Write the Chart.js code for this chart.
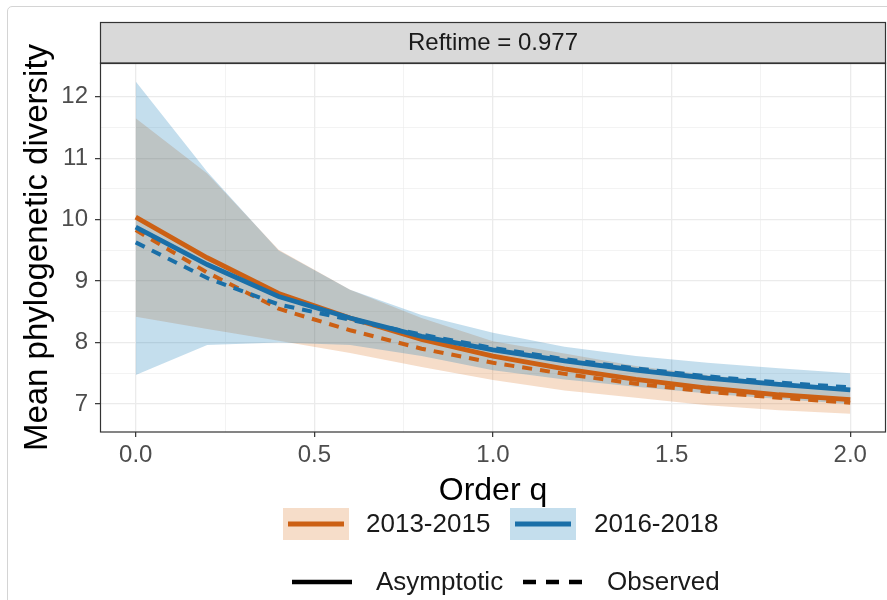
<!DOCTYPE html>
<html>
<head>
<meta charset="utf-8">
<script src="https://cdn.jsdelivr.net/npm/chart.js@4.4.1/dist/chart.umd.min.js"></script>
<style>
  html, body { margin: 0; padding: 0; background: #fff; overflow: hidden; }
  #frame { position: absolute; left: 7px; top: 6px; width: 900px; height: 620px;
           border: 1px solid #d4d4d4; border-radius: 5px; }
  #plot { position: absolute; left: 0; top: 0; }
</style>
</head>
<body>
<div id="frame"></div>
<canvas id="plot" width="887" height="600"></canvas>
<script>
const FONT = '"Liberation Sans", Arial, Helvetica, sans-serif';

// order q where the profiles were evaluated
const orderQ = [0, 0.2, 0.4, 0.6, 0.8, 1.0, 1.2, 1.4, 1.6, 1.8, 2.0];

// 2013-2015
const asy2013 = [10.04, 9.38, 8.80, 8.40, 8.05, 7.78, 7.57, 7.40, 7.26, 7.15, 7.07];
const obs2013 = [9.83, 9.14, 8.55, 8.20, 7.90, 7.67, 7.49, 7.33, 7.20, 7.10, 7.02];
const lo2013  = [8.42, 8.22, 8.03, 7.83, 7.60, 7.39, 7.22, 7.10, 6.98, 6.90, 6.84];
const hi2013  = [11.65, 10.75, 9.51, 8.86, 8.40, 8.02, 7.82, 7.62, 7.47, 7.35, 7.25];

// 2016-2018
const asy2016 = [9.88, 9.27, 8.75, 8.40, 8.10, 7.88, 7.70, 7.55, 7.42, 7.32, 7.23];
const obs2016 = [9.63, 9.05, 8.62, 8.37, 8.13, 7.91, 7.73, 7.58, 7.45, 7.35, 7.27];
const lo2016  = [7.47, 7.96, 8.00, 7.96, 7.78, 7.55, 7.40, 7.28, 7.17, 7.08, 7.00];
const hi2016  = [12.25, 10.78, 9.50, 8.86, 8.45, 8.16, 7.93, 7.78, 7.67, 7.58, 7.50];

const periods = ['2013-2015', '2016-2018'];
const methods = ['Asymptotic', 'Observed'];
const panelTitle = 'Reftime = 0.977';

const xTicks = [0, 0.25, 0.5, 0.75, 1, 1.25, 1.5, 1.75, 2];
const yTicks = [7, 7.5, 8, 8.5, 9, 9.5, 10, 10.5, 11, 11.5, 12];

const ORANGE = '#CC6014';
const BLUE = '#1A6FA8';
const ORANGE_FILL = 'rgba(213, 94, 0, 0.21)';
const BLUE_FILL = 'rgba(0, 114, 178, 0.23)';

const pts = vals => orderQ.map((q, i) => ({ x: q, y: vals[i] }));

function line(vals, color, dashed) {
  return {
    data: pts(vals),
    borderColor: color,
    borderWidth: dashed ? 4 : 4.8,
    borderDash: dashed ? [10, 8] : [],
    pointRadius: 0,
    tension: 0,
    fill: false
  };
}

function band(vals, color, fillTo) {
  return {
    data: pts(vals),
    borderWidth: 0,
    borderColor: 'rgba(0,0,0,0)',
    backgroundColor: color,
    pointRadius: 0,
    tension: 0,
    fill: fillTo
  };
}

const isMajorX = v => Math.abs(v * 2 - Math.round(v * 2)) < 1e-9;
const isMajorY = v => Math.abs(v - Math.round(v)) < 1e-9;

// facet strip, panel border and the two-row legend
const decorations = {
  id: 'decorations',
  afterDraw(chart) {
    const { ctx, chartArea: a } = chart;
    ctx.save();

    ctx.fillStyle = '#d9d9d9';
    ctx.fillRect(a.left, 22, a.right - a.left, a.top - 22);
    ctx.strokeStyle = '#333';
    ctx.lineWidth = 1.2;
    ctx.strokeRect(a.left + 0.5, 22.5, a.right - a.left - 1, a.top - 22);
    ctx.strokeRect(a.left + 0.5, a.top, a.right - a.left - 1, a.bottom - a.top);

    ctx.fillStyle = '#1a1a1a';
    ctx.font = '24px ' + FONT;
    ctx.textAlign = 'center';
    ctx.textBaseline = 'middle';
    ctx.fillText(panelTitle, (a.left + a.right) / 2, 43);

    // colour legend
    ctx.textAlign = 'left';
    ctx.font = '26px ' + FONT;
    const keys = [
      { x: 283, fill: ORANGE_FILL, col: ORANGE, tx: 366 },
      { x: 510, fill: BLUE_FILL, col: BLUE, tx: 594 }
    ];
    keys.forEach((k, i) => {
      ctx.fillStyle = k.fill;
      ctx.fillRect(k.x, 508, 66, 32);
      ctx.strokeStyle = k.col;
      ctx.lineWidth = 5;
      ctx.setLineDash([]);
      ctx.beginPath();
      ctx.moveTo(k.x + 5, 524);
      ctx.lineTo(k.x + 61, 524);
      ctx.stroke();
      ctx.fillStyle = '#1a1a1a';
      ctx.fillText(periods[i], k.tx, 525);
    });

    // linetype legend
    ctx.strokeStyle = '#000';
    ctx.lineWidth = 4.5;
    ctx.beginPath();
    ctx.moveTo(292, 582);
    ctx.lineTo(352, 582);
    ctx.stroke();
    ctx.fillText(methods[0], 376, 583);

    ctx.setLineDash([13, 10]);
    ctx.beginPath();
    ctx.moveTo(523, 582);
    ctx.lineTo(583, 582);
    ctx.stroke();
    ctx.setLineDash([]);
    ctx.fillText(methods[1], 607, 583);

    ctx.restore();
  }
};

new Chart(document.getElementById('plot'), {
  type: 'line',
  data: {
    datasets: [
      line(obs2016, BLUE, true),
      line(asy2016, BLUE, false),
      line(obs2013, ORANGE, true),
      line(asy2013, ORANGE, false),
      band(hi2016, BLUE_FILL, 5),
      band(lo2016, BLUE_FILL, false),
      band(hi2013, ORANGE_FILL, 7),
      band(lo2013, ORANGE_FILL, false)
    ]
  },
  options: {
    responsive: false,
    animation: false,
    events: [],
    layout: { padding: { left: 0, top: 63, right: 1, bottom: 0 } },
    plugins: {
      legend: { display: false },
      tooltip: { enabled: false }
    },
    scales: {
      x: {
        type: 'linear',
        min: -0.1,
        max: 2.1,
        afterBuildTicks: s => { s.ticks = xTicks.map(v => ({ value: v })); },
        afterFit: s => { s.height = 168; },
        ticks: {
          autoSkip: false,
          maxRotation: 0,
          padding: 4,
          color: '#4d4d4d',
          font: { family: FONT, size: 24 },
          callback: v => isMajorX(v) ? v.toFixed(1) : ''
        },
        grid: {
          color: '#ebebeb',
          lineWidth: c => isMajorX(c.tick.value) ? 1.3 : 0.6,
          tickColor: c => isMajorX(c.tick.value) ? '#333' : 'rgba(0,0,0,0)',
          tickLength: 5,
          tickWidth: 1.2
        },
        border: { display: false },
        title: {
          display: true,
          text: 'Order q',
          color: '#000',
          font: { family: FONT, size: 32, lineHeight: 1.2 },
          padding: { top: 0, bottom: 90 }
        }
      },
      y: {
        type: 'linear',
        min: 6.544,
        max: 12.55,
        afterBuildTicks: s => { s.ticks = yTicks.map(v => ({ value: v })); },
        afterFit: s => { s.width = 100; },
        ticks: {
          padding: 7,
          color: '#4d4d4d',
          font: { family: FONT, size: 24 },
          callback: v => isMajorY(v) ? String(v) : ''
        },
        grid: {
          color: '#ebebeb',
          lineWidth: c => isMajorY(c.tick.value) ? 1.3 : 0.6,
          tickColor: c => isMajorY(c.tick.value) ? '#333' : 'rgba(0,0,0,0)',
          tickLength: 5,
          tickWidth: 1.2
        },
        border: { display: false },
        title: {
          display: true,
          text: 'Mean phylogenetic diversity',
          color: '#000',
          font: { family: FONT, size: 33, lineHeight: 1.2 },
          padding: { top: 18, bottom: 0 }
        }
      }
    }
  },
  plugins: [decorations]
});
</script>
</body>
</html>
